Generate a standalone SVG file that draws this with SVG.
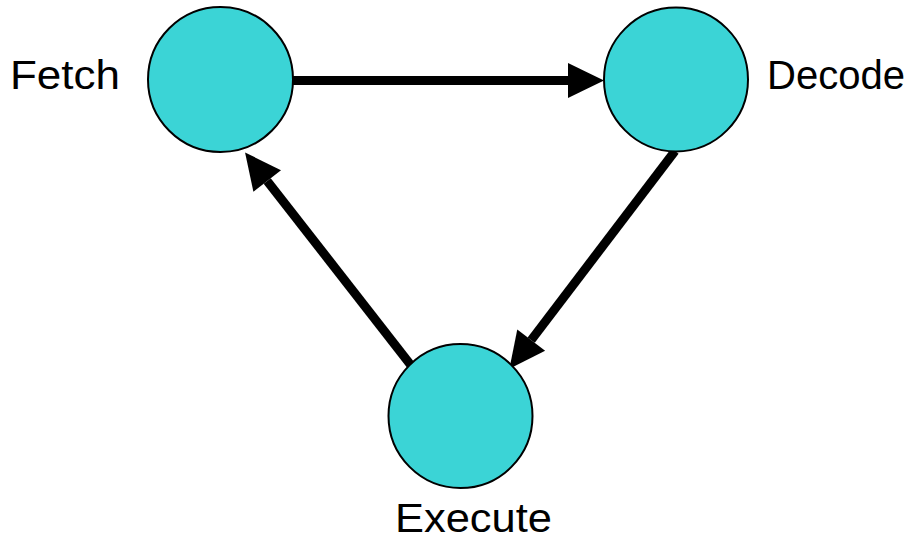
<svg xmlns="http://www.w3.org/2000/svg" width="915" height="542" viewBox="0 0 915 542">
  <defs>
    <style>
      .node { fill: #3bd4d6; stroke: #000; stroke-width: 2; }
      .label { font-family: "Liberation Sans", "DejaVu Sans", sans-serif; font-size: 41px; fill: #000; }
      .edge { stroke: #000; stroke-width: 9; fill: none; }
    </style>
    <marker id="head" markerUnits="userSpaceOnUse" markerWidth="36" markerHeight="35" refX="0" refY="17.5" orient="auto" overflow="visible">
      <path d="M0,0 L36,17.5 L0,35 Z" fill="#000"/>
    </marker>
  </defs>
  <rect width="915" height="542" fill="#fff"/>
  <g id="connectors">
    <line class="edge" x1="293" y1="80.5" x2="568" y2="80.5" marker-end="url(#head)"/>
    <line class="edge" x1="675" y1="151" x2="531.2" y2="340.1" marker-end="url(#head)"/>
    <line class="edge" x1="411.5" y1="366" x2="267.2" y2="180.9" marker-end="url(#head)"/>
  </g>
  <g id="fetch">
    <circle class="node" cx="220.5" cy="79.5" r="72.5"/>
    <text class="label" x="10" y="89" textLength="110" lengthAdjust="spacingAndGlyphs">Fetch</text>
  </g>
  <g id="decode">
    <circle class="node" cx="676" cy="79.5" r="72"/>
    <text class="label" x="767" y="89" textLength="138" lengthAdjust="spacingAndGlyphs">Decode</text>
  </g>
  <g id="execute">
    <circle class="node" cx="460.5" cy="416" r="72"/>
    <text class="label" x="395" y="532" textLength="157" lengthAdjust="spacingAndGlyphs">Execute</text>
  </g>
</svg>
